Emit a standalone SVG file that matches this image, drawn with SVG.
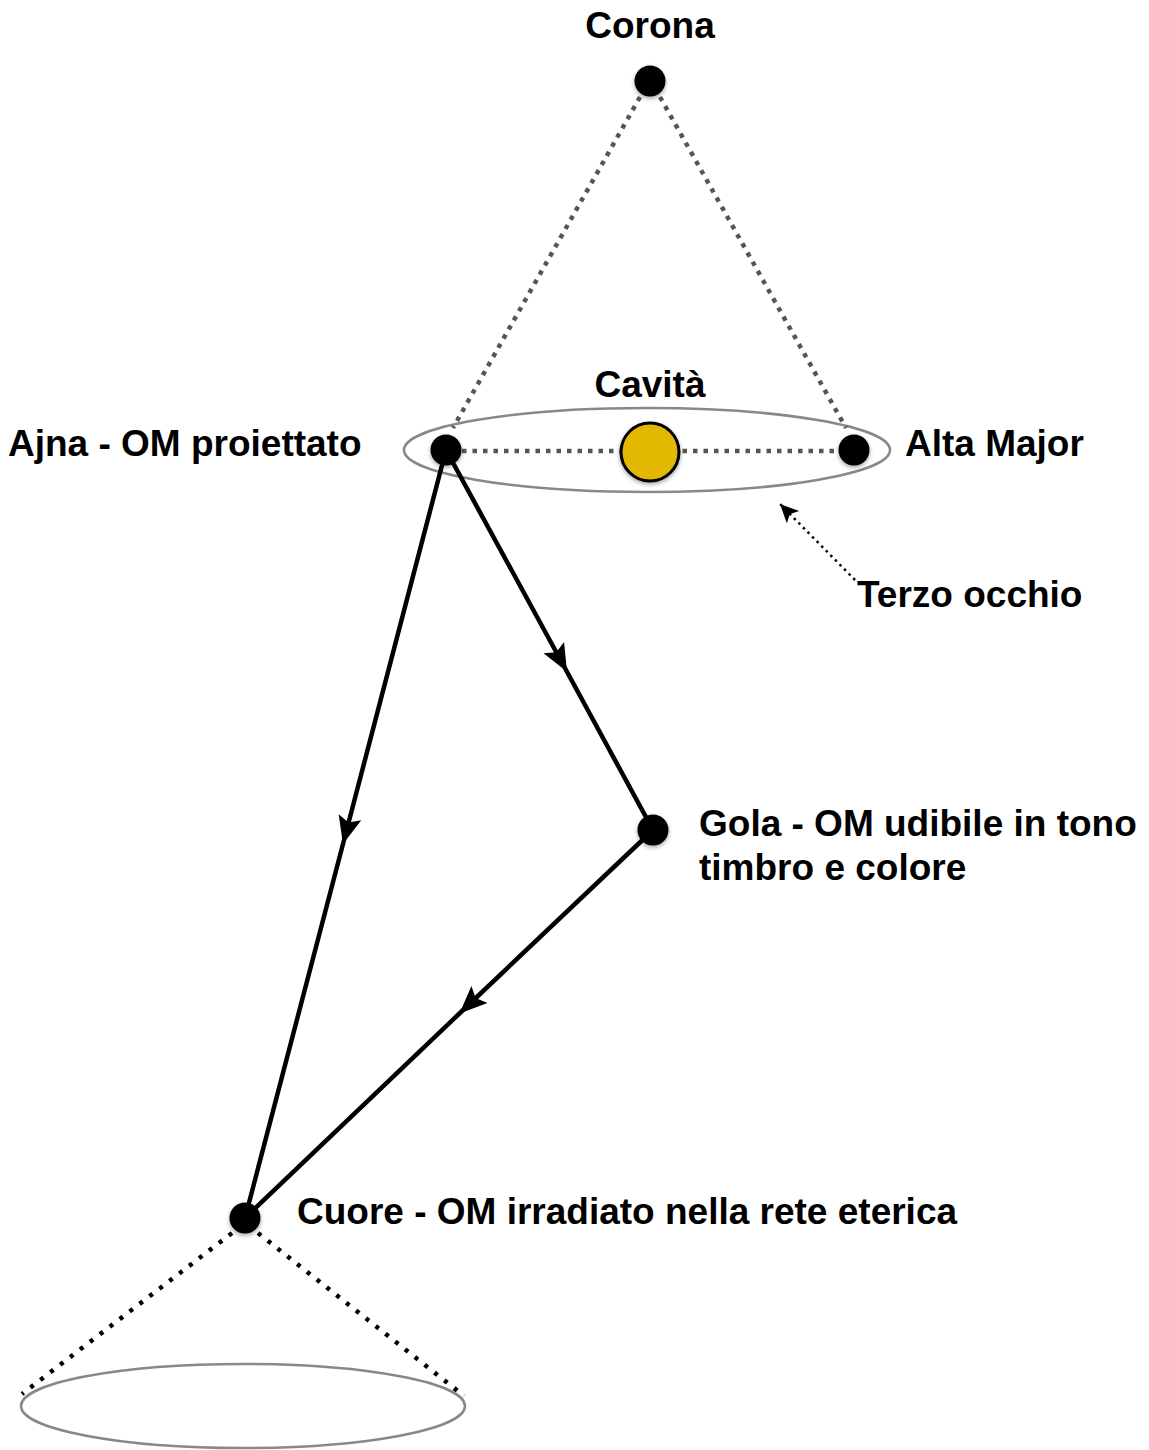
<svg xmlns="http://www.w3.org/2000/svg" width="1149" height="1450" viewBox="0 0 1149 1450">
<style>
.lbl{font-family:"Liberation Sans",Arial,sans-serif;font-weight:bold;font-size:37px;fill:#000}
.node{fill:#000;filter:url(#sh)}
.ring{fill:none;stroke:#888;stroke-width:2.5}
.dotgray{fill:none;stroke:#555;stroke-width:4.5;stroke-dasharray:4.5 6}
.dotblack{fill:none;stroke:#000;stroke-width:4.5;stroke-dasharray:4 8.5}
.solid{fill:none;stroke:#000;stroke-width:4.5;marker-mid:url(#arr)}
</style>
<defs>
<filter id="sh" x="-50%" y="-50%" width="200%" height="200%">
<feDropShadow dx="0" dy="2" stdDeviation="2" flood-color="#000" flood-opacity="0.35"/>
</filter>
<marker id="arr" markerUnits="userSpaceOnUse" markerWidth="34" markerHeight="34" viewBox="-28 -14 32 28" refX="0" refY="0" orient="auto">
<path d="M2,0 L-24,-11 L-19,0 L-24,11 Z" fill="#000"/>
</marker>
<marker id="arrs" markerUnits="userSpaceOnUse" markerWidth="24" markerHeight="24" viewBox="-20 -10 22 20" refX="0" refY="0" orient="auto">
<path d="M0,0 L-17,-8 L-13,0 L-17,8 Z" fill="#000"/>
</marker>
</defs>
<g id="rings">
<ellipse id="eye-ring" class="ring" cx="647" cy="450" rx="243" ry="42"/>
<ellipse id="base-ring" class="ring" cx="243" cy="1406" rx="222" ry="42"/>
</g>
<g id="connectors">
<line class="dotgray" x1="640" y1="97" x2="453" y2="428"/>
<line class="dotgray" x1="660" y1="97" x2="846" y2="428"/>
<line class="dotgray" x1="462" y1="451" x2="840" y2="451"/>
<line class="dotblack" x1="232" y1="1233" x2="22" y2="1394"/>
<line class="dotblack" x1="258" y1="1233" x2="464" y2="1396"/>
<path class="solid" d="M446,450 L343.5,842 L245,1218"/>
<path class="solid" d="M446,450 L566,670 L653,830"/>
<path class="solid" d="M653,830 L461,1012 L245,1218"/>
<line x1="855" y1="580" x2="780" y2="504" stroke="#000" stroke-width="2.5" stroke-dasharray="2.5 4" marker-end="url(#arrs)"/>
</g>
<g id="corona"><circle class="node" cx="650" cy="81" r="15.5"/><text class="lbl" x="650" y="38" text-anchor="middle">Corona</text></g>
<g id="cavita"><circle cx="650" cy="452" r="29" fill="#E2B800" stroke="#000" stroke-width="3" filter="url(#sh)"/><text class="lbl" x="650" y="397" text-anchor="middle">Cavità</text></g>
<g id="ajna"><circle class="node" cx="446" cy="450" r="15.5"/><text class="lbl" x="8" y="456">Ajna - OM proiettato</text></g>
<g id="alta-major"><circle class="node" cx="854" cy="450" r="15.5"/><text class="lbl" x="905" y="456">Alta Major</text></g>
<g id="terzo-occhio"><text class="lbl" x="857" y="607">Terzo occhio</text></g>
<g id="gola"><circle class="node" cx="653" cy="830" r="15.5"/><text class="lbl" x="699" y="836">Gola - OM udibile in tono</text><text class="lbl" x="699" y="880">timbro e colore</text></g>
<g id="cuore"><circle class="node" cx="245" cy="1218" r="15.5"/><text class="lbl" x="297" y="1224">Cuore - OM irradiato nella rete eterica</text></g>
</svg>
